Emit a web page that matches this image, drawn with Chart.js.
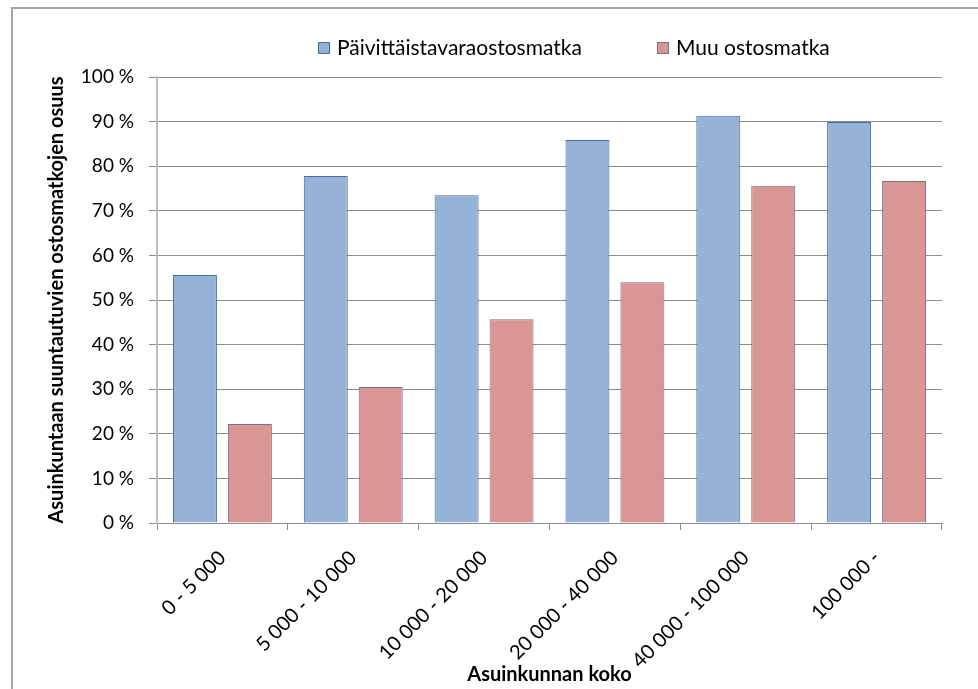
<!DOCTYPE html>
<html>
<head>
<meta charset="utf-8">
<script src="https://cdn.jsdelivr.net/npm/chart.js@4"></script>
<style>
  html, body { margin: 0; padding: 0; background: #fff; }
  #wrap { position: relative; width: 978px; height: 689px; overflow: hidden; }
  #frame { position: absolute; left: 11px; top: 7px; width: 1000px; height: 700px;
           border-left: 2px solid #a6a6a6; border-top: 2px solid #a6a6a6; }
  canvas { position: absolute; left: 0; top: 0; }
</style>
</head>
<body>
<div id="wrap">
  <div id="frame"></div>
  <canvas id="chart1" width="978" height="689"></canvas>
</div>
<script>
const categories = ['0 - 5 000', '5 000 - 10 000', '10 000 - 20 000', '20 000 - 40 000', '40 000 - 100 000', '100 000 -'];
const groceryTrips = [55.6, 77.8, 73.5, 85.9, 91.3, 89.9];
const otherTrips = [22.2, 30.5, 45.7, 54.0, 75.6, 76.7];
const seriesNames = ['Päivittäistavaraostosmatka', 'Muu ostosmatka'];
const yTicks = [0, 10, 20, 30, 40, 50, 60, 70, 80, 90, 100];
const yTitle = 'Asuinkuntaan suuntautuvien ostosmatkojen osuus';
const xTitle = 'Asuinkunnan koko';

const FONT = 'Lato, "Liberation Sans", sans-serif';

// legend drawn by hand so it sits where the original has it
const legendAtTop = {
  id: 'legendAtTop',
  afterDraw(chart) {
    const c = chart.ctx;
    c.save();
    c.font = '21px ' + FONT;
    c.textBaseline = 'middle';
    const spots = [318, 657];
    chart.data.datasets.forEach(function(ds, i) {
      c.fillStyle = ds.backgroundColor;
      c.strokeStyle = ds.borderColor;
      c.lineWidth = 1;
      c.fillRect(spots[i], 42, 12, 12);
      c.strokeRect(spots[i] + 0.5, 42.5, 11, 11);
      c.fillStyle = '#000';
      c.fillText(ds.label, spots[i] + 19, 48);
    });
    c.restore();
  }
};

new Chart(document.getElementById('chart1').getContext('2d'), {
  type: 'bar',
  data: {
    labels: categories,
    datasets: [{
      label: seriesNames[0],
      data: groceryTrips,
      backgroundColor: '#95B3D7',
      borderColor: '#4A6B9C',
      borderWidth: 1
    }, {
      label: seriesNames[1],
      data: otherTrips,
      backgroundColor: '#D99694',
      borderColor: '#76708A',
      borderWidth: 1
    }]
  },
  options: {
    responsive: false,
    animation: false,
    categoryPercentage: 0.84,
    barPercentage: 0.8,
    layout: { padding: { top: 77, left: 45, right: 36, bottom: 2 } },
    plugins: {
      legend: { display: false },
      tooltip: { enabled: false }
    },
    scales: {
      x: {
        grid: {
          offset: true,
          drawOnChartArea: false,
          drawTicks: true,
          tickLength: 7,
          color: '#8c8c8c'
        },
        border: { color: '#8c8c8c', width: 1 },
        ticks: {
          minRotation: 45,
          maxRotation: 45,
          padding: 16,
          color: '#000',
          font: { family: FONT, size: 20 }
        },
        title: {
          display: true,
          text: xTitle,
          color: '#000',
          font: { family: FONT, size: 20, weight: 'bold' },
          padding: { top: 0, bottom: 0 }
        },
        afterFit: function(scale) { scale.height = 689 - 2 - 523; }
      },
      y: {
        min: 0,
        max: 100,
        afterBuildTicks: function(scale) {
          scale.ticks = yTicks.map(function(v) { return { value: v }; });
        },
        grid: {
          color: '#8c8c8c',
          tickLength: 8
        },
        border: { color: '#bfbfbf', width: 2 },
        ticks: {
          padding: 15,
          color: '#000',
          font: { family: FONT, size: 19 },
          callback: function(v) { return v + ' %'; }
        },
        title: {
          display: true,
          text: yTitle,
          color: '#000',
          font: { family: FONT, size: 20, weight: 'bold' },
          padding: { top: 0, bottom: 0 }
        },
        afterFit: function(scale) { scale.width = 157 - 45; }
      }
    }
  },
  plugins: [legendAtTop]
});
</script>
</body>
</html>
